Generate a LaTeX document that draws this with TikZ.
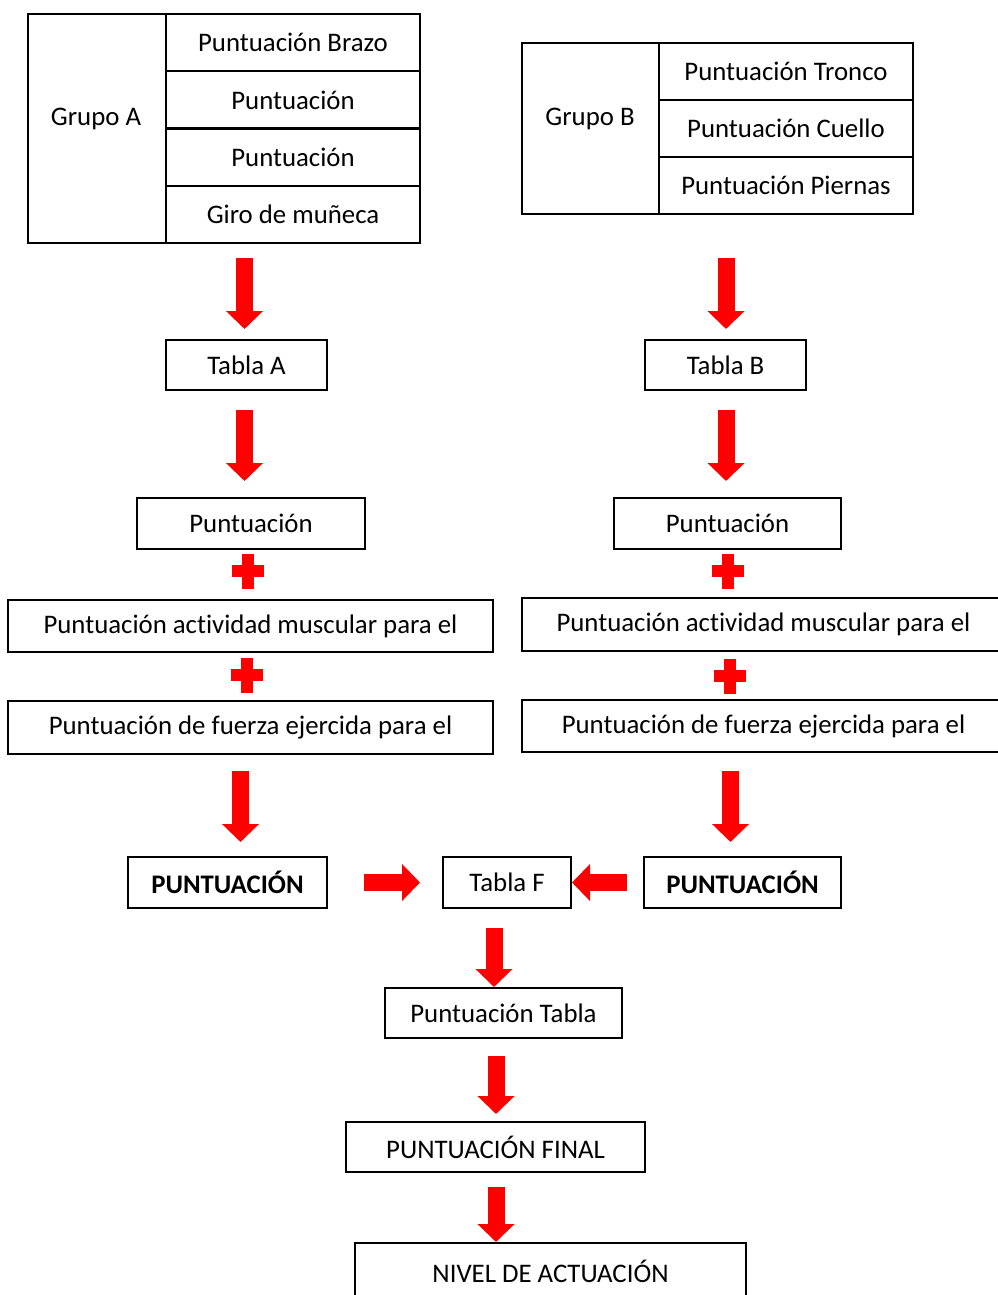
\documentclass[tikz,border=0pt]{standalone}
\usepackage{fontspec}
\setmainfont[Ligatures=NoCommon]{Carlito}
\usetikzlibrary{arrows.meta,calc}
\begin{document}
\begin{tikzpicture}[x=1pt,y=-1pt,
  box/.style={draw,line width=2pt,inner sep=0pt,font=\fontsize{26.8}{30}\selectfont},
  lbl/.style={inner sep=0pt,font=\fontsize{26.8}{30}\selectfont},
  bigarrow/.style={draw=red,line width=17pt,-{Triangle[width=36pt,length=18pt]}},
  plussign/.pic={\fill[red] (-16,-6) rectangle (16,6); \fill[red] (-6,-17.5) rectangle (6,17.5);}
]
\useasboundingbox (0,0) rectangle (998,1295);

% Grupo A
\node[box,minimum width=138pt,minimum height=229pt] (gA) at (97,128.5) {};
\node[lbl] (gAl) at (96,119) {Grupo A};
\node[box,minimum width=254pt,minimum height=57.25pt] (a1) at (293,42.6) {Puntuación Brazo};
\node[box,minimum width=254pt,minimum height=57.25pt] (a2) at (293,99.9) {Puntuación};
\node[box,minimum width=254pt,minimum height=57.25pt] (a3) at (293,157.1) {Puntuación};
\node[box,minimum width=254pt,minimum height=57.25pt] (a4) at (293,214.4) {Giro de muñeca};

% Grupo B
\node[box,minimum width=137pt,minimum height=171pt] (gB) at (590.5,128.5) {};
\node[lbl] (gBl) at (590,119) {Grupo B};
\node[box,minimum width=254pt,minimum height=57pt] (b1) at (786,71.5) {Puntuación Tronco};
\node[box,minimum width=254pt,minimum height=57pt] (b2) at (786,128.5) {Puntuación Cuello};
\node[box,minimum width=254pt,minimum height=57pt] (b3) at (786,185.5) {Puntuación Piernas};

% Left column
\node[box,minimum width=161pt,minimum height=50pt] (tabA) at (246.5,365) {Tabla A};
\node[box,minimum width=228pt,minimum height=51pt] (pA) at (251,523.5) {Puntuación};
\node[box,minimum width=485pt,minimum height=52pt] (mA) at (250.5,626) {Puntuación actividad muscular para el};
\node[box,minimum width=485pt,minimum height=53pt] (fA) at (250.5,727.5) {Puntuación de fuerza ejercida para el};
\node[box,minimum width=199pt,minimum height=51pt] (PA) at (227.5,882.5) {\bfseries PUNTUACIÓN};

% Right column
\node[box,minimum width=161pt,minimum height=50pt] (tabB) at (725.5,365) {Tabla B};
\node[box,minimum width=227pt,minimum height=51pt] (pB) at (727.5,523.5) {Puntuación};
\node[box,minimum width=483pt,minimum height=53pt] (mB) at (763.5,624.5) {Puntuación actividad muscular para el};
\node[box,minimum width=483pt,minimum height=52pt] (fB) at (763.5,726) {Puntuación de fuerza ejercida para el};
\node[box,minimum width=197pt,minimum height=51pt] (PB) at (742.5,882.5) {\bfseries PUNTUACIÓN};

% Center column
\node[box,minimum width=128pt,minimum height=51pt] (TF) at (507,882.5) {Tabla F};
\node[box,minimum width=237pt,minimum height=50pt] (PT) at (503.5,1013) {Puntuación Tabla};
\node[box,minimum width=299pt,minimum height=50pt] (PF) at (495.5,1147) {PUNTUACIÓN FINAL};
\node[box,minimum width=391pt,minimum height=56pt] (NA) at (550.5,1271) {NIVEL DE ACTUACIÓN};

% Plus signs
\pic at (248,571) {plussign};
\pic at (728,571) {plussign};
\pic at (247,675) {plussign};
\pic at (730,676) {plussign};

% Arrows
\draw[bigarrow] ($(gA.south -| tabA.north)+(-2,14)$) -- ($(tabA.north)+(-2,-10)$);
\draw[bigarrow] ($(gB.south -| tabB.north)+(0.5,43)$) -- ($(tabB.north)+(0.5,-10)$);
\draw[bigarrow] ($(tabA.south)+(-2,19)$) -- ($(pA.north -| tabA.south)+(-2,-16)$);
\draw[bigarrow] ($(tabB.south)+(0.5,19)$) -- ($(pB.north -| tabB.south)+(0.5,-16)$);
\draw[bigarrow] ($(fA.south)+(-10,16)$) -- ($(PA.north -| fA.south)+(-10,-14)$);
\draw[bigarrow] ($(fB.south -| PB.north)+(-12,18)$) -- ($(PB.north)+(-12,-14)$);
\draw[bigarrow] ($(PA.east)+(36,0)$) -- ($(TF.west)+(-22,0)$);
\draw[bigarrow] ($(PB.west)+(-16,0)$) -- (TF.east);
\draw[bigarrow] ($(TF.south -| PT.north)+(-9.5,19)$) -- ($(PT.north)+(-9.5,0)$);
\draw[bigarrow] ($(PT.south -| PF.north)+(0.5,17)$) -- ($(PF.north)+(0.5,-7)$);
\draw[bigarrow] ($(PF.south)+(0.5,14)$) -- ($(NA.north -| PF.south)+(0.5,0)$);
\end{tikzpicture}
\end{document}
